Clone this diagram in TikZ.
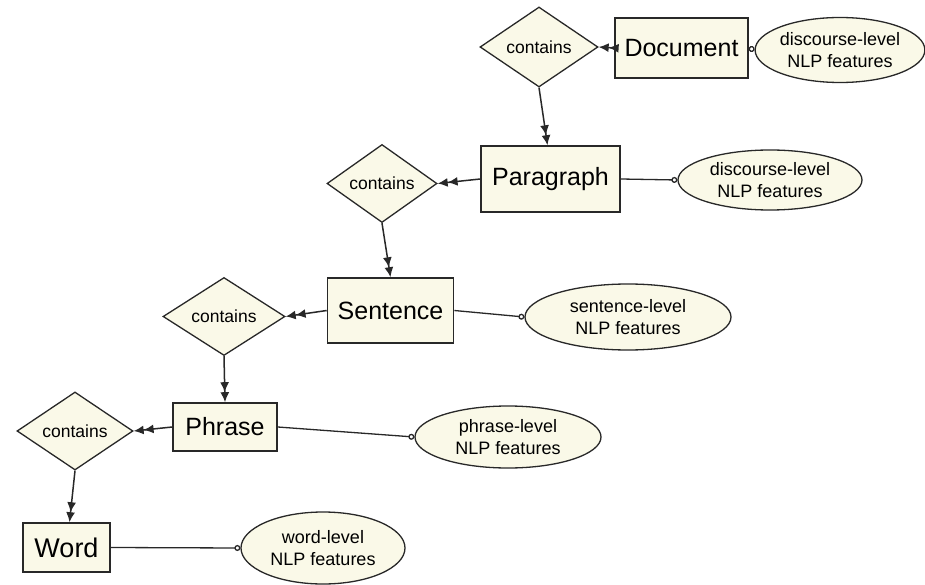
\documentclass[tikz,border=0pt]{standalone}
\usepackage{fontspec}
\setmainfont{Liberation Sans}
\usepackage{tikz}
\usetikzlibrary{shapes.geometric,arrows.meta}

\definecolor{cream}{RGB}{250,249,232}
\definecolor{edge}{RGB}{40,40,40}

\begin{document}
\begin{tikzpicture}[x=1pt,y=-1pt,
  entity/.style={draw=edge,line width=1.6pt,fill=cream,rectangle,inner sep=0pt,font=\fontsize{25}{28}\selectfont},
  relation/.style={draw=edge,line width=1.3pt,fill=cream,diamond,inner sep=0pt,font=\fontsize{17.5}{20}\selectfont},
  attribute/.style={draw=edge,line width=1.3pt,fill=cream,ellipse,inner sep=0pt,align=center,font=\fontsize{18}{22}\selectfont},
  has/.style={draw=edge,line width=1.5pt,-{Latex[length=10pt,width=9pt]Latex[length=10pt,width=9pt]}},
  feat/.style={draw=edge,line width=1.3pt,-{Circle[open,length=6pt,width=6pt]}}]
\useasboundingbox (0,0) rectangle (925,585);

% Document level
\node[relation,minimum width=118pt,minimum height=80pt] (cont1) at (539,47) {contains};
\node[entity,minimum width=133pt,minimum height=60pt] (doc) at (681.5,48) {Document};
\node[attribute,minimum width=168pt,minimum height=65pt] (feat1) at (840,50) {discourse-level\\NLP features};

% Paragraph level
\node[entity,minimum width=139pt,minimum height=66pt] (para) at (550.5,179) {Paragraph};
\node[relation,minimum width=110pt,minimum height=73pt] (cont2) at (382,183.5) {contains};
\node[attribute,minimum width=184pt,minimum height=60pt] (feat2) at (770,180) {discourse-level\\NLP features};

% Sentence level
\node[entity,minimum width=126pt,minimum height=65pt] (sent) at (390.5,310.5) {Sentence};
\node[relation,minimum width=122pt,minimum height=63pt] (cont3) at (224,316.5) {contains};
\node[attribute,minimum width=206pt,minimum height=66pt] (feat3) at (628,317) {sentence-level\\NLP features};

% Phrase level
\node[entity,minimum width=104pt,minimum height=48pt] (phr) at (225,427) {Phrase};
\node[relation,minimum width=116pt,minimum height=74pt] (cont4) at (75,431) {contains};
\node[attribute,minimum width=186pt,minimum height=62pt] (feat4) at (508,437) {phrase-level\\NLP features};

% Word level
\node[entity,minimum width=87pt,minimum height=49pt,font=\fontsize{27}{30}\selectfont] (word) at (66.5,547.5) {Word};
\node[attribute,minimum width=164pt,minimum height=72pt] (feat5) at (323,548) {word-level\\NLP features};

% containment arrows
\draw[has] (doc.west) -- (cont1.east);
\draw[has] (cont1.south) -- ([xshift=-3pt]para.north);
\draw[has] (para.west) -- (cont2.east);
\draw[has] (cont2.south) -- (sent.north);
\draw[has] (sent.west) -- (cont3.east);
\draw[has] (cont3.south) -- (phr.north);
\draw[has] (phr.west) -- (cont4.east);
\draw[has] (cont4.south) -- ([xshift=3pt]word.north);

% feature links
\draw[feat] (doc.east) -- (feat1.west);
\draw[feat] (para.east) -- (feat2.west);
\draw[feat] (sent.east) -- (feat3.west);
\draw[feat] (phr.east) -- (feat4.west);
\draw[feat] (word.east) -- (feat5.west);

\end{tikzpicture}
\end{document}
